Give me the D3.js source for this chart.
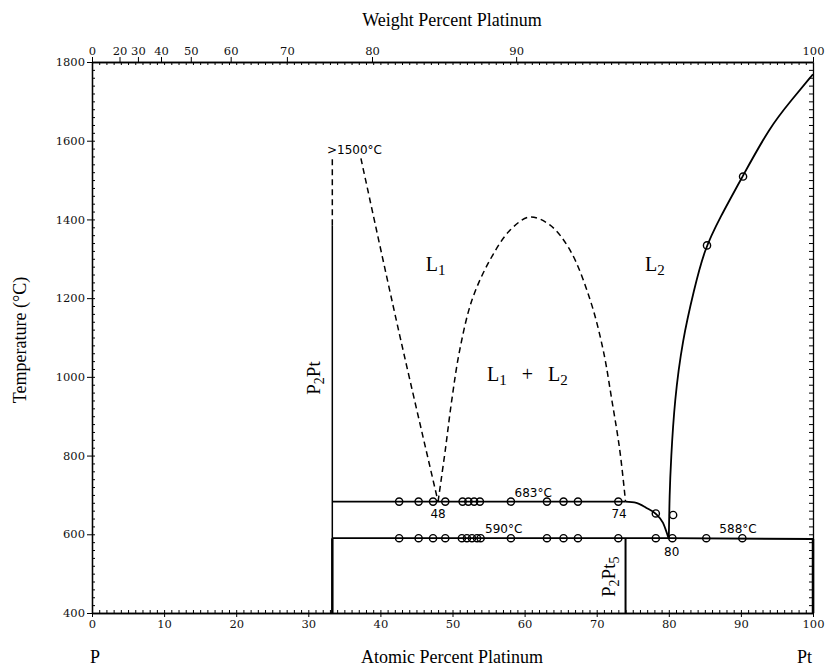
<!DOCTYPE html>
<meta charset="utf-8">
<script src="https://d3js.org/d3.v7.min.js"></script>
<body style="margin:0;background:#fff">
<div id="chart"></div>
</body>
<script>
    // ---- data (atomic % Pt, temperature in C) ----
    const atTicks = [0, 10, 20, 30, 40, 50, 60, 70, 80, 90, 100];
    const tempTicks = [400, 600, 800, 1000, 1200, 1400, 1600, 1800];
    const wtTicks = [0, 20, 30, 40, 50, 60, 70, 80, 90, 100];

    const p2ptX = 33.33;
    const p2pt5X = 74;
    const eut683 = 683;
    const eut590 = 590;

    const leftLiquidus = [[37.3, 1555], [42.5, 1120], [48, 683]];
    const dome = [[48, 683], [49, 814], [49.9, 941], [51, 1068], [52.7, 1195], [55.2, 1297],
        [58, 1373], [60.7, 1406], [63.5, 1386], [66.3, 1322], [69.1, 1195], [70.9, 1068],
        [72.1, 941], [73.2, 814], [74, 683]];
    const solvus = [[74, 683], [75.5, 680], [76.9, 667], [78.2, 652], [79.2, 629], [80, 588]];
    const ptLiquidus = [[80, 588], [80.1, 700], [80.3, 789], [80.8, 941], [81.9, 1094], [83.5, 1221],
        [84.9, 1322], [87.1, 1405], [90.2, 1508], [94.0, 1635], [97.1, 1705], [100, 1769]];

    const pts683 = [42.6, 45.3, 47.3, 49.0, 51.4, 52.2, 53.0, 53.8, 58.1, 63.1, 65.4, 67.4, 73.0];
    const pts590 = [42.6, 45.3, 47.3, 49.0, 51.3, 52.0, 52.7, 53.4, 53.9, 58.1, 63.1, 65.4, 67.4, 73.0, 78.2, 80.5, 85.2, 90.2];
    const ptsOther = [[78.2, 653], [80.6, 649], [85.3, 1334], [90.3, 1509]];

    const W = 831, H = 668;
    const svg = d3.select("#chart").append("svg")
        .attr("width", W).attr("height", H);

    const x = d3.scaleLinear().domain([0, 100]).range([92, 813]);
    const y = d3.scaleLinear().domain([400, 1800]).range([613, 62]);

    // weight % Pt -> atomic % Pt
    function wtToAt(w) {
        let a = w / 195.08, b = (100 - w) / 30.97;
        return 100 * a / (a + b);
    }

    const tickFont = "DejaVu Serif";
    function styleAxis(g) {
        g.select(".domain").attr("stroke", "#000").attr("stroke-width", 1.3);
        g.selectAll(".tick line").attr("stroke", "#000");
        g.selectAll(".tick text").attr("fill", "#111")
            .style("font-family", tickFont).style("font-size", "11.5px");
    }

    // bottom
    svg.append("g").attr("transform", "translate(0," + y(400) + ")")
        .call(d3.axisBottom(x).tickValues(d3.range(0, 101, 1)).tickFormat("").tickSizeInner(-3).tickSizeOuter(0))
        .call(styleAxis);
    svg.append("g").attr("transform", "translate(0," + y(400) + ")")
        .call(d3.axisBottom(x).tickValues(atTicks).tickFormat(d3.format("d")).tickSizeInner(4).tickSizeOuter(0).tickPadding(3))
        .call(styleAxis);

    // top (weight percent)
    svg.append("g").attr("transform", "translate(0," + y(1800) + ")")
        .call(d3.axisTop(x).tickValues(d3.range(1, 100, 1)).tickFormat("").tickSizeInner(-3).tickSizeOuter(0))
        .call(styleAxis);
    svg.append("g").attr("transform", "translate(0," + y(1800) + ")")
        .call(d3.axisTop(x).tickValues(wtTicks.map(wtToAt))
            .tickFormat((d, i) => wtTicks[i]).tickSizeInner(5).tickSizeOuter(0).tickPadding(2))
        .call(styleAxis);

    // left
    svg.append("g").attr("transform", "translate(" + x(0) + ",0)")
        .call(d3.axisLeft(y).tickValues(d3.range(400, 1801, 20)).tickFormat("").tickSizeInner(-3).tickSizeOuter(0))
        .call(styleAxis);
    svg.append("g").attr("transform", "translate(" + x(0) + ",0)")
        .call(d3.axisLeft(y).tickValues(tempTicks).tickFormat(d3.format("d")).tickSizeInner(5).tickSizeOuter(0).tickPadding(2))
        .call(styleAxis);

    // right
    svg.append("g").attr("transform", "translate(" + x(100) + ",0)")
        .call(d3.axisRight(y).tickValues(d3.range(400, 1801, 20)).tickFormat("").tickSizeInner(-4).tickSizeOuter(0))
        .call(styleAxis);

    // axis titles
    const titleFont = "Liberation Serif";
    svg.append("text").attr("x", 452).attr("y", 26).attr("text-anchor", "middle")
        .style("font-family", titleFont).style("font-size", "18px").text("Weight Percent Platinum");
    svg.append("text").attr("x", 452).attr("y", 663).attr("text-anchor", "middle")
        .style("font-family", titleFont).style("font-size", "18px").text("Atomic Percent Platinum");
    svg.append("text").attr("x", 90).attr("y", 663)
        .style("font-family", titleFont).style("font-size", "18px").text("P");
    svg.append("text").attr("x", 797).attr("y", 663)
        .style("font-family", titleFont).style("font-size", "18px").text("Pt");
    svg.append("text").attr("transform", "translate(26,340) rotate(-90)").attr("text-anchor", "middle")
        .style("font-family", titleFont).style("font-size", "18px").text("Temperature (°C)");

    // ---- phase boundaries ----
    const line = d3.line().x(d => x(d[0])).y(d => y(d[1]));
    const plot = svg.append("g").attr("fill", "none").attr("stroke", "#000");

    function seg(pts, w, dash) {
        plot.append("path").datum(pts)
            .attr("d", line)
            .attr("stroke-width", w)
            .attr("stroke-dasharray", dash || null);
    }

    // P2Pt compound line
    seg([[p2ptX, 400], [p2ptX, eut590]], 2.5);
    seg([[p2ptX, eut590], [p2ptX, 1385]], 1.5);
    seg([[p2ptX, 1385], [p2ptX, 1555]], 1.5, "6,4");
    // P2Pt5 compound and Pt side
    seg([[p2pt5X, 400], [p2pt5X, 588]], 2);
    seg([[100, 400], [100, 588]], 2.5);

    // horizontals
    seg([[p2ptX, eut683], [74, eut683]], 1.8);
    seg([[p2ptX, eut590], [80, eut590], [100, 588]], 1.8);

    // dashed liquidus and miscibility gap
    plot.append("path").datum(leftLiquidus)
        .attr("d", line.curve(d3.curveCatmullRom)).attr("stroke-width", 1.5).attr("stroke-dasharray", "6,4");
    plot.append("path").datum(dome)
        .attr("d", line.curve(d3.curveCatmullRom)).attr("stroke-width", 1.5).attr("stroke-dasharray", "6,4");
    plot.append("path").datum(solvus)
        .attr("d", line.curve(d3.curveMonotoneX)).attr("stroke-width", 1.8);
    plot.append("path").datum(ptLiquidus)
        .attr("d", line.curve(d3.curveBasis)).attr("stroke-width", 1.8);
    line.curve(d3.curveLinear);

    // measured points
    let circles = pts683.map(v => [v, eut683])
        .concat(pts590.map(v => [v, eut590]))
        .concat(ptsOther);
    svg.append("g").selectAll("circle").data(circles).enter().append("circle")
        .attr("cx", d => x(d[0])).attr("cy", d => y(d[1])).attr("r", 3.6)
        .attr("fill", "none").attr("stroke", "#000").attr("stroke-width", 1.4);

    // ---- labels ----
    const lab = svg.append("g").style("font-family", "DejaVu Sans").style("font-size", "12px").attr("fill", "#000");
    function txt(t, px, py, anchor) {
        return lab.append("text").attr("x", px).attr("y", py).attr("text-anchor", anchor || "middle").text(t);
    }
    txt(">1500°C", x(36.4), y(1565));
    txt("683°C", x(61.2), y(695));
    txt("590°C", x(57.1), y(602));
    txt("588°C", x(89.6), y(602));
    txt("48", x(48), y(641));
    txt("74", x(73.1), y(641));
    txt("80", x(80.4), y(545));

    const phase = svg.append("g").style("font-family", titleFont).style("font-size", "20px");
    function phaseLabel(px, py, parts) {
        let t = phase.append("text").attr("x", px).attr("y", py).style("white-space", "pre");
        parts.forEach(p => {
            let s = t.append("tspan").text(p[0]);
            if (p[1]) s.attr("font-size", "15px").attr("dy", 4);
            if (p[2]) s.attr("dy", -4);
        });
        return t;
    }
    phaseLabel(x(46.3), y(1270), [["L"], ["1", true]]);
    phaseLabel(x(76.7), y(1270), [["L"], ["2", true]]);
    phaseLabel(x(54.8), y(990), [["L"], ["1", true], ["   +   L", false, true], ["2", true]]);

    function vertLabel(px, py, parts) {
        let t = svg.append("text").attr("transform", "translate(" + px + "," + py + ") rotate(-90)")
            .attr("text-anchor", "middle")
            .style("font-family", titleFont).style("font-size", "19px");
        parts.forEach(p => {
            let s = t.append("tspan").text(p[0]);
            if (p[1]) s.attr("font-size", "14px").attr("dy", 4);
            if (p[2]) s.attr("dy", -4);
        });
    }
    vertLabel(x(31.6), y(997), [["P"], ["2", true], ["Pt", false, true]]);
    vertLabel(x(72.6), y(492), [["P"], ["2", true], ["Pt", false, true], ["5", true]]);
</script>
</html>
